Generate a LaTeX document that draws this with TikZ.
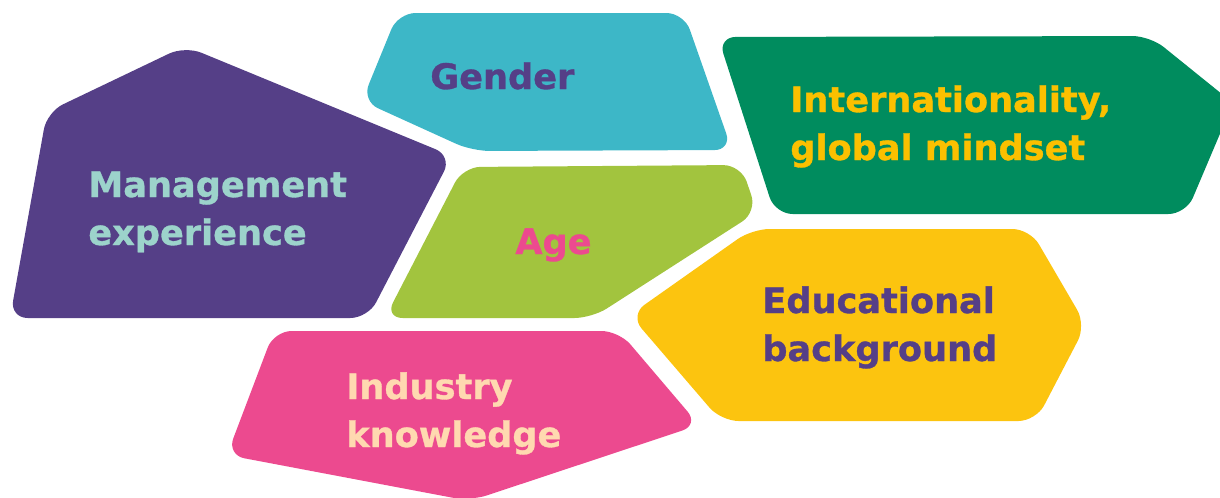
\documentclass[tikz,border=0pt]{standalone}
\usepackage{fontspec}
\setmainfont{DejaVu Sans}
\newfontfamily\heavyfont{DejaVu Sans Bold}[FakeBold=0.9]
\definecolor{cpurple}{HTML}{553F87}
\definecolor{ccyan}{HTML}{3DB7C7}
\definecolor{clime}{HTML}{A2C43E}
\definecolor{cgreen}{HTML}{008C5E}
\definecolor{cyellow}{HTML}{FCC40F}
\definecolor{cpink}{HTML}{EC4A8F}
\definecolor{cteal}{HTML}{9CD3CB}
\definecolor{cpeach}{HTML}{FFD9B0}
\definecolor{cgold}{HTML}{FBC000}
\begin{document}
\begin{tikzpicture}[x=0.02cm,y=-0.02cm,
  tile/.style={rounded corners=10pt},
  lbl/.style={inner sep=0pt,anchor=base west,align=left,
    font=\fontsize{20}{27.3}\selectfont\heavyfont}]
\useasboundingbox (0,0) rectangle (1220,497);
\clip (0,0) rectangle (1220,497);
% Management experience
\fill[cpurple,tile] (10,318) -- (47,112) -- (185,46) -- (452,156) -- (368,318) -- cycle;
% Gender
\fill[ccyan,tile] (398,13) -- (684,13) -- (732,150) -- (472,151) -- (362,101) -- cycle;
% Age
\fill[clime,tile] (463,167) -- (741,165) -- (757,212) -- (592,318) -- (385,318) -- cycle;
% Internationality
\fill[cgreen,tile] (718,37) -- (1150,36) -- (1233,103) -- (1186,214) -- (775,214) -- cycle;
% Educational background
\fill[cyellow,tile] (752,229) -- (1030,229) -- (1086,325) -- (1036,421) -- (721,421) -- (630,315) -- cycle;
% Industry knowledge
\fill[cpink,tile] (274,331) -- (619,331) -- (699,425) -- (470,501) -- (227,455) -- cycle;
% labels
\node[lbl,text=cteal] (mgmt) at (88,245) {Management\\experience};
\node[lbl,text=cpurple] (gender) at (430,89) {Gender};
\node[lbl,text=cpink] (age) at (515,254) {Age};
\node[lbl,text=cgold] (intl) at (790,160) {Internationality,\\global mindset};
\node[lbl,text=cpurple] (edu) at (762,361) {Educational\\background};
\node[lbl,text=cpeach] (ind) at (346,447) {Industry\\knowledge};
\end{tikzpicture}
\end{document}
